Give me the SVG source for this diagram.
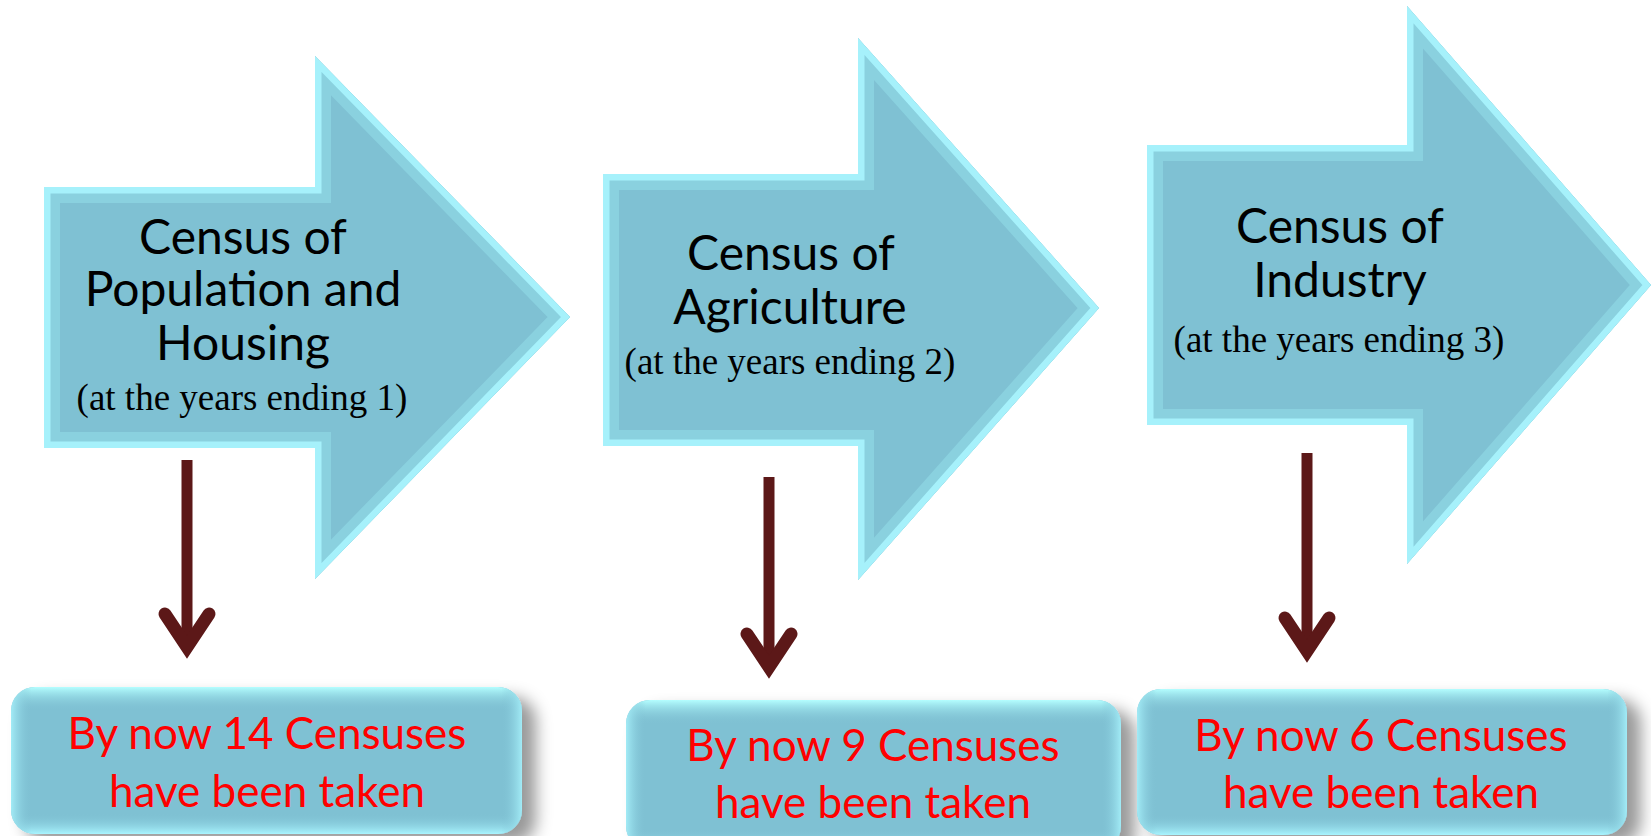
<svg xmlns="http://www.w3.org/2000/svg" xmlns:xlink="http://www.w3.org/1999/xlink" width="1651" height="836" viewBox="0 0 1651 836">
<style>
.afill{fill:#7FC1D3}
.bevIn{fill:none;stroke:#8AD1DF;stroke-width:32;stroke-linejoin:miter}
.bevOut{fill:none;stroke:#A6F1FB;stroke-width:13;stroke-linejoin:miter}
.title{font-family:Lato,"Liberation Sans",sans-serif;font-size:48px;fill:#000;text-anchor:middle}
.sub{font-family:"Liberation Serif",serif;font-size:37px;fill:#000;text-anchor:middle}
.red{font-family:Lato,"Liberation Sans",sans-serif;font-size:44px;fill:#FF0000;text-anchor:middle}
.box{fill:#7FC1D3}
.boxV{fill:url(#gv)}
.boxH{fill:url(#gh)}
.conn{stroke:#5C1818;stroke-width:11;fill:none;marker-end:url(#chev)}
</style>
<defs>
<path id="a1" d="M44,187 H315 V56 L570,317 L315,579 V448 H44 Z"/>
<path id="a2" d="M603,174 H858 V38 L1099,308 L858,580 V446 H603 Z"/>
<path id="a3" d="M1147,145 H1407 V6 L1651,285 L1407,564 V425 H1147 Z"/>
<clipPath id="c1"><use xlink:href="#a1"/></clipPath>
<clipPath id="c2"><use xlink:href="#a2"/></clipPath>
<clipPath id="c3"><use xlink:href="#a3"/></clipPath>
<linearGradient id="gv" x1="0" y1="0" x2="0" y2="1">
<stop offset="0" stop-color="#B4FEFF" stop-opacity="1"/>
<stop offset="0.16" stop-color="#7FC1D3" stop-opacity="0"/>
<stop offset="0.86" stop-color="#7FC1D3" stop-opacity="0"/>
<stop offset="1" stop-color="#A9F5FF" stop-opacity="1"/>
</linearGradient>
<linearGradient id="gh" x1="0" y1="0" x2="1" y2="0">
<stop offset="0" stop-color="#A6F0FA" stop-opacity="0.9"/>
<stop offset="0.04" stop-color="#7FC1D3" stop-opacity="0"/>
<stop offset="0.96" stop-color="#7FC1D3" stop-opacity="0"/>
<stop offset="1" stop-color="#A6F0FA" stop-opacity="0.9"/>
</linearGradient>
<filter id="sh" x="-10%" y="-20%" width="125%" height="150%">
<feDropShadow dx="14" dy="10" stdDeviation="8" flood-color="#000" flood-opacity="0.4"/>
</filter>
<marker id="chev" markerUnits="userSpaceOnUse" viewBox="-50 -40 70 80" markerWidth="70" markerHeight="80" refX="0" refY="0" orient="auto" overflow="visible">
<path d="M-33,-22 L0,0 L-33,22" fill="none" stroke="#5C1818" stroke-width="13" stroke-linecap="round" stroke-linejoin="miter"/>
</marker>
</defs>
<rect width="1651" height="836" fill="#fff"/>

<g id="census-population">
<use xlink:href="#a1" class="afill"/>
<use xlink:href="#a1" class="bevIn" clip-path="url(#c1)"/>
<use xlink:href="#a1" class="bevOut" clip-path="url(#c1)"/>
<text class="title" x="243" y="254">Census of</text>
<text class="title" x="243" y="306">Population and</text>
<text class="title" x="243" y="360">Housing</text>
<text class="sub" x="242" y="410">(at the years ending 1)</text>
</g>

<g id="census-agriculture">
<use xlink:href="#a2" class="afill"/>
<use xlink:href="#a2" class="bevIn" clip-path="url(#c2)"/>
<use xlink:href="#a2" class="bevOut" clip-path="url(#c2)"/>
<text class="title" x="791" y="270">Census of</text>
<text class="title" x="790" y="324">Agriculture</text>
<text class="sub" x="790" y="374">(at the years ending 2)</text>
</g>

<g id="census-industry">
<use xlink:href="#a3" class="afill"/>
<use xlink:href="#a3" class="bevIn" clip-path="url(#c3)"/>
<use xlink:href="#a3" class="bevOut" clip-path="url(#c3)"/>
<text class="title" x="1340" y="243">Census of</text>
<text class="title" x="1340" y="297">Industry</text>
<text class="sub" x="1339" y="352">(at the years ending 3)</text>
</g>

<g id="connectors">
<path class="conn" d="M187,460 V647"/>
<path class="conn" d="M769,477 V667"/>
<path class="conn" d="M1307,453 V651"/>
</g>

<g id="result-14">
<g filter="url(#sh)"><rect class="box" x="11" y="687" width="511" height="147" rx="24"/></g>
<rect class="boxV" x="11" y="687" width="511" height="147" rx="24"/>
<rect class="boxH" x="11" y="687" width="511" height="147" rx="24"/>
<text class="red" x="267" y="749">By now 14 Censuses</text>
<text class="red" x="267" y="807">have been taken</text>
</g>

<g id="result-9">
<g filter="url(#sh)"><rect class="box" x="626" y="700" width="495" height="150" rx="24"/></g>
<rect class="boxV" x="626" y="700" width="495" height="150" rx="24"/>
<rect class="boxH" x="626" y="700" width="495" height="150" rx="24"/>
<text class="red" x="873" y="761">By now 9 Censuses</text>
<text class="red" x="873" y="818">have been taken</text>
</g>

<g id="result-6">
<g filter="url(#sh)"><rect class="box" x="1137" y="689" width="490" height="146" rx="24"/></g>
<rect class="boxV" x="1137" y="689" width="490" height="146" rx="24"/>
<rect class="boxH" x="1137" y="689" width="490" height="146" rx="24"/>
<text class="red" x="1381" y="751">By now 6 Censuses</text>
<text class="red" x="1381" y="808">have been taken</text>
</g>
</svg>
